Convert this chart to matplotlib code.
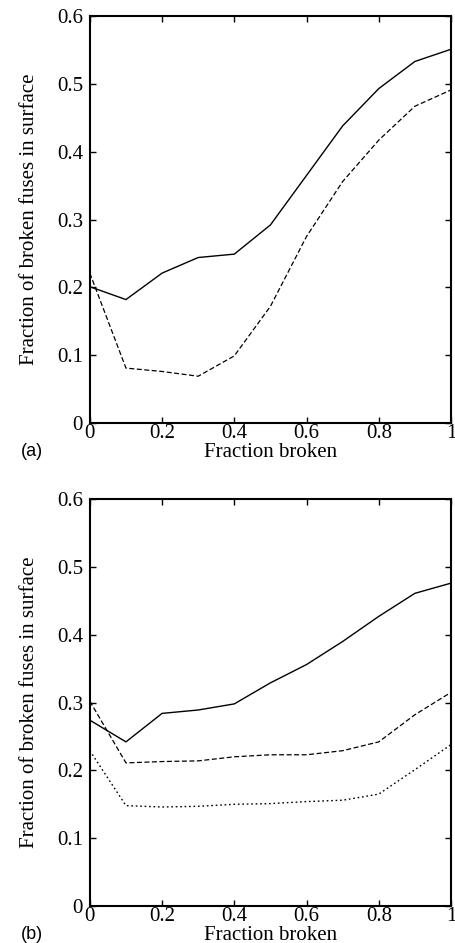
import numpy as np
from matplotlib import pyplot as plt

plt.rcParams['font.family'] = 'Liberation Serif'

frac = np.linspace(0, 1, 11)

# panel (a)
a_solid = [0.201, 0.182, 0.221, 0.244, 0.249, 0.292, 0.365, 0.438, 0.493, 0.533, 0.551]
a_dashed = [0.221, 0.081, 0.076, 0.069, 0.099, 0.172, 0.275, 0.356, 0.417, 0.467, 0.491]

# panel (b)
b_solid = [0.274, 0.242, 0.284, 0.289, 0.298, 0.329, 0.356, 0.390, 0.427, 0.461, 0.476]
b_dashed = [0.302, 0.211, 0.213, 0.214, 0.220, 0.223, 0.223, 0.229, 0.242, 0.282, 0.315]
b_dotted = [0.229, 0.148, 0.146, 0.147, 0.150, 0.151, 0.154, 0.156, 0.165, 0.201, 0.238]

xticks = [0, 0.2, 0.4, 0.6, 0.8, 1]
xticklabels = ['0', '0.2', '0.4', '0.6', '0.8', '1']
yticks = [0, 0.1, 0.2, 0.3, 0.4, 0.5, 0.6]
yticklabels = ['0', '0.1', '0.2', '0.3', '0.4', '0.5', '0.6']

fig = plt.figure(figsize=(4.56, 9.43), dpi=100)
ax1 = fig.add_axes([0.197, 0.5514, 0.792, 0.4316])
ax2 = fig.add_axes([0.197, 0.0392, 0.792, 0.4316])


def style(ax, tag):
    ax.set_xlim(0, 1)
    ax.set_ylim(0, 0.6)
    ax.set_xticks(xticks)
    ax.set_xticklabels(xticklabels)
    ax.set_yticks(yticks)
    ax.set_yticklabels(yticklabels)
    ax.tick_params(direction='in', top=True, right=True, length=4, width=1,
                   labelsize=15)
    ax.tick_params(axis='x', pad=0.5)
    ax.tick_params(axis='y', pad=5)
    for s in ax.spines.values():
        s.set_linewidth(1.5)
    ax.set_xlabel('Fraction broken', fontsize=15, labelpad=0)
    ax.set_ylabel('Fraction of broken fuses in surface', fontsize=15, labelpad=13)
    ax.text(-0.19, -0.07, tag, transform=ax.transAxes, fontsize=13,
            family='Liberation Sans', ha='left', va='center')


ax1.plot(frac, a_solid, 'k-', lw=1)
ax1.plot(frac, a_dashed, 'k--', lw=0.9, dashes=(4, 2))
style(ax1, '(a)')

ax2.plot(frac, b_solid, 'k-', lw=1)
ax2.plot(frac, b_dashed, 'k--', lw=0.9, dashes=(4, 2))
ax2.plot(frac, b_dotted, 'k:', lw=1, dashes=(1.2, 2))
style(ax2, '(b)')

fig.savefig('out.png', dpi=100)
